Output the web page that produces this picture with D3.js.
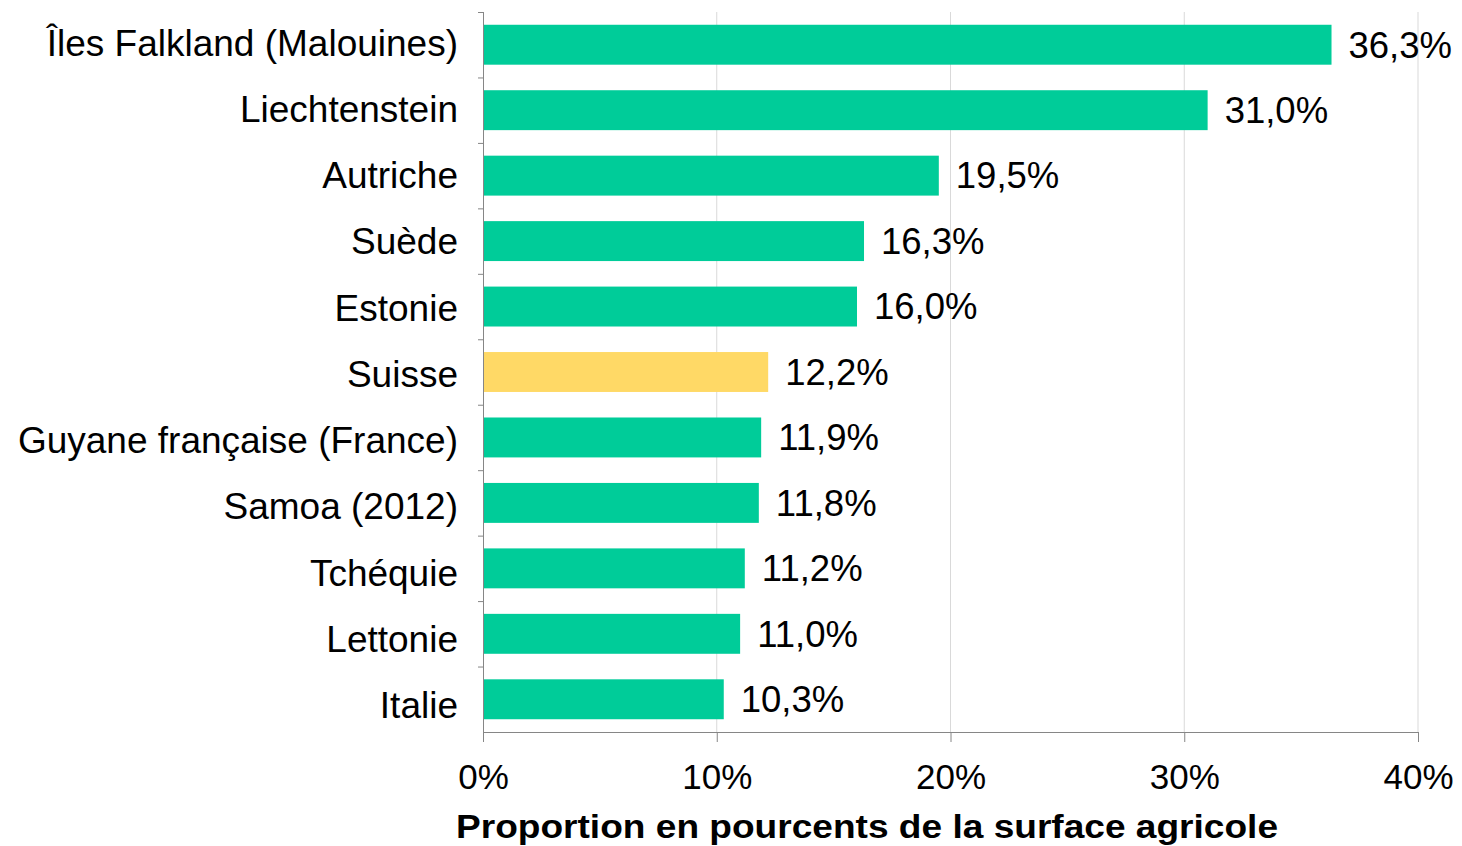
<!DOCTYPE html>
<html>
<head>
<meta charset="utf-8">
<script src="https://cdn.jsdelivr.net/npm/d3@7"></script>
<style>
  body { margin: 0; background: #fff; }
  text { font-family: "Liberation Sans", Arial, sans-serif; fill: #000; }
</style>
</head>
<body>
<script>
// data
const countries = [
    "Îles Falkland (Malouines)", "Liechtenstein", "Autriche", "Suède", "Estonie",
    "Suisse", "Guyane française (France)", "Samoa (2012)", "Tchéquie", "Lettonie", "Italie"
];
const shares = [36.3, 31.0, 19.5, 16.3, 16.0, 12.2, 11.9, 11.8, 11.2, 11.0, 10.3];
const highlighted = ["Suisse"];
const xTicks = [0, 10, 20, 30, 40];
const xTitle = "Proportion en pourcents de la surface agricole";

const W = 1462, H = 846;
const M = { left: 483, right: 44, top: 12, bottom: 114 };
const innerW = W - M.left - M.right;
const innerH = H - M.top - M.bottom;

const svg = d3.select("body").append("svg")
    .attr("width", W)
    .attr("height", H);

const g = svg.append("g")
    .attr("transform", `translate(${M.left},${M.top})`);

const x = d3.scaleLinear().domain([0, 40]).range([0, innerW]);
const y = d3.scaleBand().domain(countries).range([0, innerH]).paddingInner(0.39).paddingOuter(0.195);

// category labels are spaced a touch wider than the bars in the original
const firstMid = y(countries[0]) + y.bandwidth() / 2;
const lastMid = y(countries[countries.length - 1]) + y.bandwidth() / 2;
const labelY = d3.scalePoint().domain(countries).range([firstMid - 2, lastMid + 6]);

const fmt = v => d3.format(".1f")(v).replace(".", ",") + "%";

// gridlines
g.append("g")
    .selectAll("line")
    .data(xTicks.filter(t => t > 0))
    .join("line")
    .attr("x1", d => x(d)).attr("x2", d => x(d))
    .attr("y1", 0).attr("y2", innerH)
    .attr("stroke", "#d9d9d9")
    .attr("stroke-width", 1);

// bars
g.append("g")
    .selectAll("rect")
    .data(countries)
    .join("rect")
    .attr("x", 0)
    .attr("y", d => y(d))
    .attr("width", (d, i) => x(shares[i]))
    .attr("height", y.bandwidth())
    .attr("fill", d => highlighted.includes(d) ? "#ffd966" : "#00cc99");

// value labels
g.append("g")
    .selectAll("text")
    .data(countries)
    .join("text")
    .attr("x", (d, i) => x(shares[i]) + 17)
    .attr("y", d => y(d) + y.bandwidth() / 2)
    .attr("dy", "0.35em")
    .style("font-size", "36.5px")
    .text((d, i) => fmt(shares[i]));

// y axis: line + ticks between categories
const step = y.step();
const yAxis = g.append("g");
yAxis.append("line")
    .attr("x1", 0.5).attr("x2", 0.5)
    .attr("y1", 0).attr("y2", innerH)
    .attr("stroke", "#868686");
yAxis.selectAll("line.tick")
    .data(d3.range(countries.length))
    .join("line")
    .attr("class", "tick")
    .attr("x1", -5).attr("x2", 0)
    .attr("y1", i => i * step + 0.5).attr("y2", i => i * step + 0.5)
    .attr("stroke", "#868686");

yAxis.selectAll("text")
    .data(countries)
    .join("text")
    .attr("x", -25)
    .attr("y", d => labelY(d))
    .attr("dy", "0.35em")
    .attr("text-anchor", "end")
    .style("font-size", "37px")
    .text(d => d);

// x axis
const xAxis = g.append("g")
    .attr("transform", `translate(0,${innerH})`)
    .call(d3.axisBottom(x).tickValues(xTicks).tickSize(10).tickPadding(22).tickFormat(d => d + "%"));
xAxis.select(".domain").attr("stroke", "#868686").attr("d", `M0.5,0.5H${innerW + 0.5}`);
xAxis.selectAll(".tick line").attr("stroke", "#868686");
xAxis.selectAll(".tick text")
    .style("font-size", "35px")
    .attr("fill", "#000");

svg.append("text")
    .attr("x", 867)
    .attr("y", 838)
    .attr("text-anchor", "middle")
    .attr("textLength", 822)
    .attr("lengthAdjust", "spacingAndGlyphs")
    .style("font-size", "33px")
    .style("font-weight", "bold")
    .text(xTitle);
</script>
</body>
</html>
